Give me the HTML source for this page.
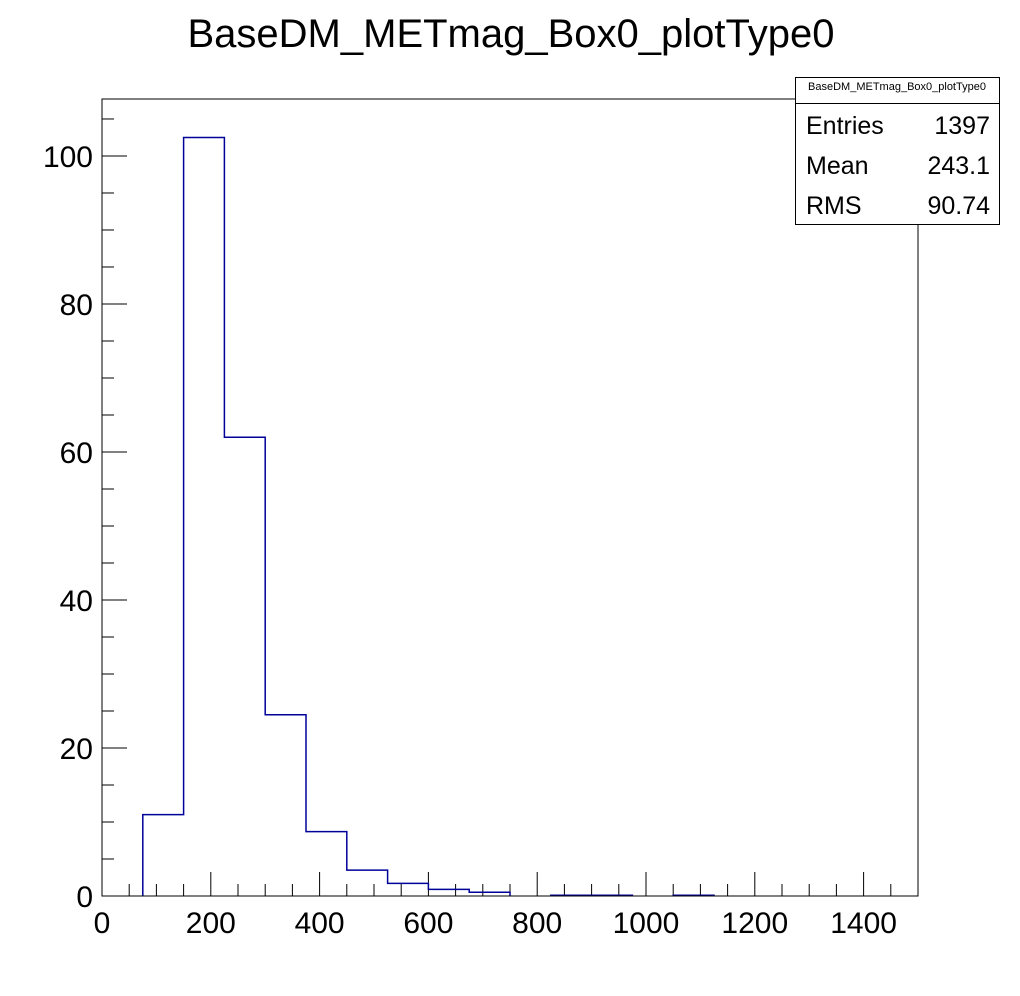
<!DOCTYPE html>
<html><head><meta charset="utf-8"><style>
body{margin:0;background:#fff;}
svg{display:block;font-family:"Liberation Sans",sans-serif;}
</style></head><body>
<svg width="1020" height="996" xmlns="http://www.w3.org/2000/svg">
<rect width="1020" height="996" fill="#fff"/>
<text x="511" y="47" font-size="40" text-anchor="middle">BaseDM_METmag_Box0_plotType0</text>
<g id="axes"></g>
<g id="hist" fill="none" stroke="#000099" stroke-width="1.5"></g>
<rect x="102" y="99" width="816" height="797" fill="none" stroke="#000" stroke-width="1"/>
<g>
<rect x="795.5" y="77.5" width="204" height="147" fill="#fff" stroke="#000"/>
<line x1="795.5" y1="103.5" x2="999.5" y2="103.5" stroke="#000"/>
<text x="897" y="90" font-size="11" text-anchor="middle">BaseDM_METmag_Box0_plotType0</text>
<text x="806" y="134" font-size="25">Entries</text><text x="990" y="134" font-size="25" text-anchor="end">1397</text>
<text x="806" y="174" font-size="25">Mean</text><text x="990" y="174" font-size="25" text-anchor="end">243.1</text>
<text x="806" y="214" font-size="25">RMS</text><text x="990" y="214" font-size="25" text-anchor="end">90.74</text>
</g>
</svg>
<script>
const binEdgesStart = 0;
const binWidth = 75;
const binValues = [0, 11, 102.5, 62, 24.5, 8.7, 3.5, 1.7, 0.9, 0.5, 0, 0.1, 0.1, 0, 0.1, 0, 0, 0, 0, 0];
const xTicks = [0, 200, 400, 600, 800, 1000, 1200, 1400];
const yTicks = [0, 20, 40, 60, 80, 100];
const xMin = 0, xMax = 1500, yMin = 0, yMax = 107.7;
const X0 = 102, X1 = 918, Y0 = 896, Y1 = 99;
const sx = v => X0 + (v - xMin) / (xMax - xMin) * (X1 - X0);
const sy = v => Y0 - (v - yMin) / (yMax - yMin) * (Y0 - Y1);
const NS = "http://www.w3.org/2000/svg";
const axes = document.getElementById('axes');
function mk(parent, tag, attrs){const e=document.createElementNS(NS,tag);for(const k in attrs)e.setAttribute(k,attrs[k]);parent.appendChild(e);return e;}
for(let v=0; v<=xMax; v+=50){
  const major = v%200===0;
  const l = mk(axes,'line',{x1:sx(v),x2:sx(v),y1:Y0,y2:Y0-(major?24:12),stroke:'#000','stroke-width':1});
  
  
}
xTicks.forEach(v=>{
  const t = mk(axes,'text',{x:sx(v),y:933,'font-size':30,'text-anchor':'middle'});
  t.textContent = v;
  
  
});
for(let v=0; v<=yMax; v+=5){
  const major = v%20===0;
  const l = mk(axes,'line',{x1:X0,x2:X0+(major?25:12),y1:sy(v),y2:sy(v),stroke:'#000','stroke-width':1});
  
  
}
yTicks.forEach(v=>{
  const t = mk(axes,'text',{x:93,y:sy(v)+11,'font-size':30,'text-anchor':'end'});
  t.textContent = v;
  
  
});
const hist = document.getElementById('hist');
let d = '', inRun = false, lastEdge = 0;
binValues.forEach((v,i)=>{
  const a = binEdgesStart + i*binWidth, b = a + binWidth;
  if(v > 0){
    if(!inRun){ d += ` M${sx(a)},${sy(0)}`; inRun = true; }
    d += ` L${sx(a)},${sy(v)} L${sx(b)},${sy(v)}`;
    lastEdge = b;
  } else if(inRun){
    d += ` L${sx(lastEdge)},${sy(0)}`;
    inRun = false;
  }
});
if(inRun) d += ` L${sx(lastEdge)},${sy(0)}`;
const p = mk(hist,'path',{d:d});


</script>
</body></html>
